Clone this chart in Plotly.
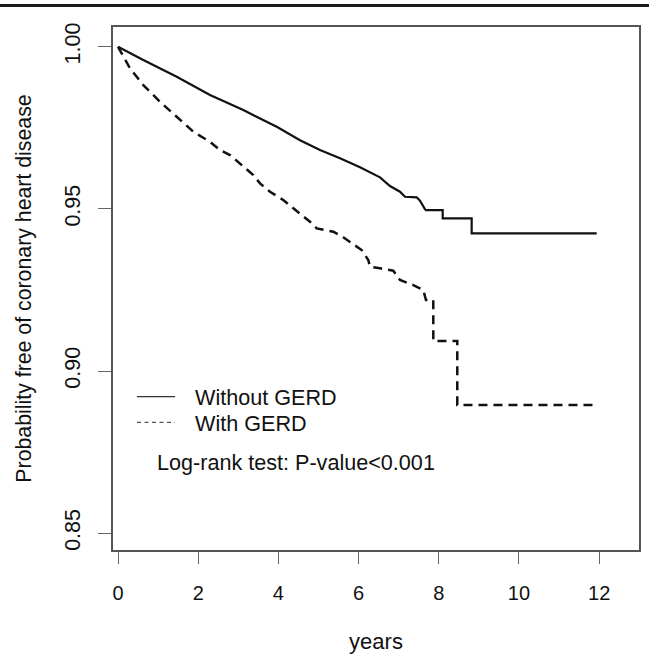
import plotly.graph_objects as go

# ---- data ----
without_t = [0.0, 0.631, 1.464, 2.294, 3.125, 3.958, 4.539, 5.037, 5.536, 6.035, 6.534,
             6.783, 7.032, 7.157, 7.449, 7.531, 7.656, 7.68, 8.097, 8.097, 8.820, 8.820, 11.938]
without_s = [1.0, 0.99590, 0.99075, 0.98511, 0.98048, 0.97533, 0.97119, 0.96815, 0.96559,
             0.96281, 0.95973, 0.95705, 0.95529, 0.95375, 0.95356, 0.95251, 0.94986, 0.94965,
             0.94965, 0.94709, 0.94709, 0.94246, 0.94246]

with_t = [0.0, 0.299, 0.631, 1.047, 1.464, 1.878, 2.294, 2.544, 2.793, 3.125, 3.374, 3.541,
          3.791, 4.122, 4.372, 4.539, 4.788, 4.955, 5.369, 5.618, 5.868, 6.077, 6.242, 6.284,
          6.534, 6.865, 7.032, 7.364, 7.613, 7.68, 7.863, 7.863, 8.461, 8.461, 11.895]
with_s = [1.0, 0.99334, 0.98819, 0.98304, 0.97842, 0.97379, 0.97071, 0.96814, 0.96660,
          0.96300, 0.96044, 0.95788, 0.95529, 0.95273, 0.95017, 0.94863, 0.94604, 0.94400,
          0.94295, 0.94123, 0.93907, 0.93731, 0.93423, 0.93216, 0.93167, 0.93093, 0.92806,
          0.92652, 0.92498, 0.92189, 0.92189, 0.90925, 0.90925, 0.88952, 0.88952]

x_ticks = [0, 2, 4, 6, 8, 10, 12]
y_ticks = [0.85, 0.90, 0.95, 1.00]
series_names = ["Without GERD", "With GERD"]
test_text = "Log-rank test: P-value<0.001"

FONT = "Liberation Sans, Arial, sans-serif"

fig = go.Figure()
fig.add_trace(go.Scatter(x=without_t, y=without_s, mode="lines", name=series_names[0],
                         line=dict(color="#111111", width=2.2), showlegend=False))
fig.add_trace(go.Scatter(x=with_t, y=with_s, mode="lines", name=series_names[1],
                         line=dict(color="#111111", width=2.5, dash="9px,6px"), showlegend=False))

W, H = 649, 654
L, R, T, B = 113, 10, 27, 104
pw, ph = W - L - R, H - T - B


def px(xp):
    return (xp - L) / pw


def py(yp):
    return 1 - (yp - T) / ph


shapes = [
    # top rule across the page
    dict(type="line", xref="paper", yref="paper", x0=px(0), x1=px(W), y0=py(5.5), y1=py(5.5),
         line=dict(color="#1a1a1a", width=3)),
    # legend samples
    dict(type="line", xref="paper", yref="paper", x0=px(137), x1=px(175), y0=py(396.7), y1=py(396.7),
         line=dict(color="#333333", width=1.3)),
    dict(type="line", xref="paper", yref="paper", x0=px(137), x1=px(175), y0=py(422.3), y1=py(422.3),
         line=dict(color="#555555", width=1.2, dash="4px,3.5px")),
]

annotations = [
    dict(text=series_names[0], xref="paper", yref="paper", x=px(193), y=py(397.7),
         xanchor="left", yanchor="middle", showarrow=False, font=dict(family=FONT, size=21.6, color="#111")),
    dict(text=series_names[1], xref="paper", yref="paper", x=px(193), y=py(423.3),
         xanchor="left", yanchor="middle", showarrow=False, font=dict(family=FONT, size=21.6, color="#111")),
    dict(text=test_text, xref="paper", yref="paper", x=px(155), y=py(462.8),
         xanchor="left", yanchor="middle", showarrow=False, font=dict(family=FONT, size=21.6, color="#111")),
]

fig.update_layout(
    width=W, height=H,
    margin=dict(l=L, r=R, t=T, b=B, autoexpand=False),
    paper_bgcolor="white", plot_bgcolor="white",
    shapes=shapes, annotations=annotations,
    font=dict(family=FONT, color="#111"),
)

fig.update_xaxes(
    range=[-0.125, 12.993], tickvals=x_ticks, ticktext=[str(v) for v in x_ticks],
    showgrid=False, zeroline=False, showline=True, mirror=True, linecolor="#555", linewidth=1.5,
    ticks="outside", ticklen=12, tickcolor="#666", tickwidth=1.3,
    tickfont=dict(family=FONT, size=20, color="#111"), ticklabelstandoff=12,
    title=dict(text="years", font=dict(family=FONT, size=22, color="#111"), standoff=34),
    automargin=False,
)
fig.update_yaxes(
    range=[0.8448, 1.0061], tickvals=y_ticks, ticktext=[f"{v:.2f}" for v in y_ticks],
    showgrid=False, zeroline=False, showline=True, mirror=True, linecolor="#555", linewidth=1.5,
    ticks="outside", ticklen=13, tickcolor="#666", tickwidth=1.3, tickangle=-90,
    tickfont=dict(family=FONT, size=21.5, color="#111"), ticklabelstandoff=10,
    title=dict(text="Probability free of coronary heart disease",
               font=dict(family=FONT, size=21.3, color="#111"), standoff=23),
    automargin=False,
)

fig.write_html("out.html", config={"displayModeBar": False},
               post_script="document.body.style.margin='0';document.body.style.overflow='hidden';")
